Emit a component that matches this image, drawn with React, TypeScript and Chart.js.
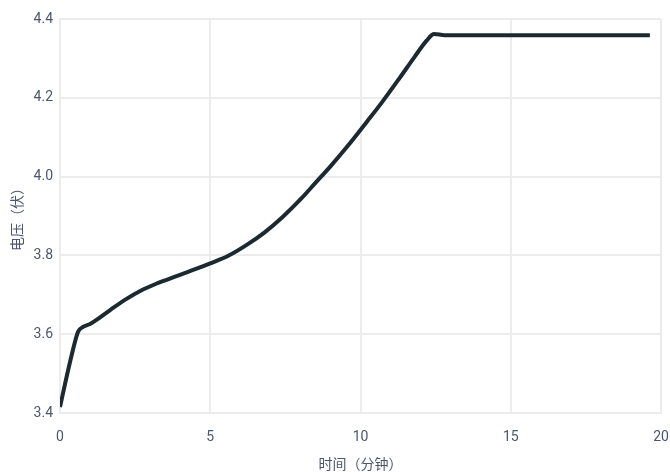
import React, { useEffect, useRef } from "react";
import { Chart, registerables } from "chart.js";

Chart.register(...registerables);

const timeMin = [0, 0.2, 0.43, 0.6, 0.78, 1.0, 1.3, 1.7, 2.2, 2.7, 3.2, 3.9, 4.5, 5.0, 5.6, 6.2, 6.8, 7.4, 8.0, 8.5, 9.0, 9.6, 10.2, 10.7, 11.3, 11.8, 12.2, 12.45, 12.8, 14, 19.63];
const voltage = [3.415, 3.485, 3.56, 3.606, 3.619, 3.626, 3.641, 3.663, 3.689, 3.711, 3.728, 3.748, 3.765, 3.78, 3.799, 3.826, 3.858, 3.897, 3.942, 3.984, 4.026, 4.08, 4.138, 4.187, 4.25, 4.304, 4.345, 4.362, 4.359, 4.359, 4.359];
const xTicks = [0, 5, 10, 15, 20];
const yTicks = [3.4, 3.6, 3.8, 4.0, 4.2, 4.4];

export default function App() {
  const ref = useRef<HTMLCanvasElement>(null);
  useEffect(() => {
    if (!ref.current) return;
    const tickColor = "#4a5670";
    const gridColor = "#ececec";
    const chart = new Chart(ref.current, {
      type: "line",
      data: {
        datasets: [
          {
            data: timeMin.map((t, i) => ({ x: t, y: voltage[i] })),
            borderColor: "#1b2a31",
            borderWidth: 4,
            pointRadius: 0,
            cubicInterpolationMode: "monotone",
            fill: false,
          },
        ],
      },
      options: {
        responsive: false,
        animation: false,
        layout: { padding: { top: 19, right: 9, left: 0, bottom: 0 } },
        plugins: { legend: { display: false }, tooltip: { enabled: false } },
        scales: {
          x: {
            type: "linear",
            min: 0,
            max: 20,
            afterBuildTicks: (axis: any) => {
              axis.ticks = xTicks.map((v) => ({ value: v }));
            },
            afterFit: (axis: any) => {
              axis.height = 59;
              axis.paddingRight = 0;
            },
            grid: { color: gridColor, lineWidth: 2, drawTicks: false },
            border: { color: gridColor, width: 2 },
            ticks: { color: tickColor, font: { family: "Roboto", size: 14 }, padding: 16, maxRotation: 0 },
            title: {
              display: true,
              text: "时间（分钟）",
              color: tickColor,
              font: { family: "Noto Sans CJK SC", size: 14 },
              padding: { top: 0, bottom: 0 },
            },
          },
          y: {
            type: "linear",
            min: 3.4,
            max: 4.4,
            afterBuildTicks: (axis: any) => {
              axis.ticks = yTicks.map((v) => ({ value: v }));
            },
            afterFit: (axis: any) => {
              axis.width = 60;
            },
            grid: { color: gridColor, lineWidth: 2, drawTicks: false },
            border: { color: gridColor, width: 2 },
            ticks: {
              color: tickColor,
              font: { family: "Roboto", size: 14 },
              padding: 7,
              callback: (v: any) => Number(v).toFixed(1),
            },
            title: {
              display: true,
              text: "电压（伏）",
              color: tickColor,
              font: { family: "Noto Sans CJK SC", size: 14 },
              padding: { top: 8, bottom: 0 },
            },
          },
        },
      },
    });
    return () => chart.destroy();
  }, []);
  return (
    <div style={{ position: "absolute", left: 0, top: 0, width: 670, height: 472 }}>
      <canvas ref={ref} width={670} height={472} style={{ width: 670, height: 472 }} />
    </div>
  );
}
